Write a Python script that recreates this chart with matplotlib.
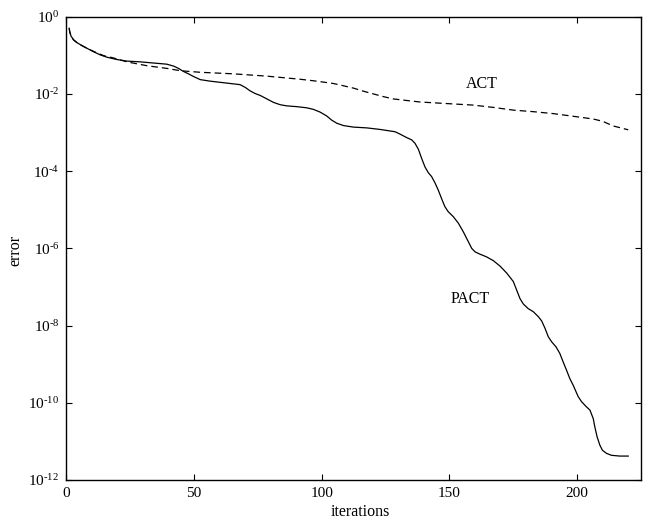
import numpy as np
import matplotlib
matplotlib.use("Agg")
import matplotlib.pyplot as plt
from matplotlib.ticker import FixedLocator, NullLocator

plt.rcParams['font.family'] = ['Liberation Serif', 'DejaVu Serif']
plt.rcParams['mathtext.fontset'] = 'custom'
plt.rcParams['mathtext.rm'] = 'Liberation Serif'
plt.rcParams['mathtext.it'] = 'Liberation Serif:italic'
plt.rcParams['mathtext.default'] = 'regular'

# PACT (solid) : iteration, log10(error)
pact_iter = [1.1, 1.3, 1.8, 2.8, 4.1, 6.1, 8.1, 10.7, 13.3, 15.9, 19.8, 23.7, 28.9, 34.1,
             39.3, 42.0, 43.9, 45.9, 47.8, 49.8, 52.4, 56.3, 60.2, 64.1, 68.0, 70.0, 71.9,
             73.9, 75.9, 78.5, 81.1, 83.7, 86.3, 90.2, 94.1, 96.7, 99.3, 101.9, 103.9,
             105.9, 108.5, 112.4, 117.6, 122.8, 126.7, 128.7, 130.6, 133.2, 135.2, 136.5,
             137.8, 139.1, 140.4, 141.7, 143.0, 144.3, 145.6, 146.9, 148.2, 149.5, 151.5,
             153.5, 155.4, 157.4, 158.7, 160.0, 161.9, 164.5, 167.2, 169.8, 172.4, 175.0,
             176.3, 177.6, 178.9, 180.8, 182.8, 184.8, 186.1, 187.4, 188.7, 190.0, 191.7,
             193.2, 194.5, 195.8, 197.1, 198.4, 200.4, 201.7, 203.4, 205.0, 206.3, 206.9,
             207.8, 208.9, 209.9, 211.5, 213.4, 216.7, 220.0]
pact_log10_error = [-0.30, -0.39, -0.50, -0.60, -0.67, -0.75, -0.82, -0.91, -0.99, -1.05,
                    -1.11, -1.15, -1.17, -1.20, -1.23, -1.28, -1.34, -1.42, -1.48, -1.55,
                    -1.63, -1.67, -1.70, -1.73, -1.76, -1.83, -1.92, -1.99, -2.04, -2.13,
                    -2.22, -2.28, -2.31, -2.33, -2.36, -2.40, -2.47, -2.57, -2.68, -2.76,
                    -2.82, -2.86, -2.88, -2.92, -2.96, -2.98, -3.04, -3.13, -3.19, -3.28,
                    -3.43, -3.67, -3.89, -4.04, -4.14, -4.30, -4.49, -4.71, -4.92, -5.05,
                    -5.18, -5.35, -5.57, -5.83, -6.00, -6.09, -6.15, -6.22, -6.32, -6.46,
                    -6.64, -6.86, -7.08, -7.30, -7.44, -7.56, -7.64, -7.77, -7.88, -8.07,
                    -8.29, -8.42, -8.55, -8.72, -8.94, -9.15, -9.37, -9.54, -9.84, -9.97,
                    -10.09, -10.19, -10.41, -10.62, -10.88, -11.10, -11.23, -11.31, -11.36,
                    -11.38, -11.38]

# ACT (dashed) : iteration, log10(error)
act_iter = [1.1, 1.3, 1.8, 2.8, 4.1, 6.1, 8.1, 10.7, 14.6, 18.5, 23.7, 31.5, 39.4, 44.6,
            52.4, 58.9, 65.4, 71.9, 78.5, 85.0, 91.5, 98.0, 104.5, 108.5, 112.4, 116.3,
            120.2, 124.1, 128.0, 133.2, 138.5, 143.7, 151.5, 159.3, 167.2, 175.0, 182.8,
            190.6, 198.5, 206.3, 210.0, 214.1, 220.0]
act_log10_error = [-0.30, -0.39, -0.50, -0.60, -0.67, -0.75, -0.82, -0.90, -1.01, -1.07,
                   -1.17, -1.27, -1.34, -1.40, -1.44, -1.46, -1.48, -1.51, -1.54, -1.58,
                   -1.62, -1.67, -1.73, -1.79, -1.85, -1.93, -2.00, -2.07, -2.13, -2.17,
                   -2.21, -2.23, -2.26, -2.29, -2.35, -2.42, -2.46, -2.51, -2.58, -2.65,
                   -2.71, -2.83, -2.93]

x_ticks = [0, 50, 100, 150, 200]
y_exponents = [0, -2, -4, -6, -8, -10, -12]

fig = plt.figure(figsize=(6.49, 5.23), dpi=100)
ax = fig.add_axes([0.1023, 0.0822, 0.8854, 0.8859])

ax.plot(pact_iter, 10.0 ** np.array(pact_log10_error), color='black', lw=0.9)
ax.plot(act_iter, 10.0 ** np.array(act_log10_error), color='black', lw=0.9,
        dashes=(5.3, 3.2))

ax.set_yscale('log')
ax.set_xlim(0, 225)
ax.set_ylim(1e-12, 1)


def exp_label(e):
    s = str(e).replace('-', '\u2010')
    return r'$10^{%s}$' % s


ax.xaxis.set_major_locator(FixedLocator(x_ticks))
ax.set_xticklabels([str(t) for t in x_ticks])
ax.yaxis.set_major_locator(FixedLocator([10.0 ** e for e in y_exponents]))
ax.set_yticklabels([exp_label(e) for e in y_exponents])
ax.yaxis.set_minor_locator(NullLocator())
ax.xaxis.set_minor_locator(NullLocator())

ax.tick_params(direction='in', length=4.5, width=0.8, top=True, right=True,
               labelsize=11, pad=5)
for s in ax.spines.values():
    s.set_linewidth(1.0)

ax.text(162.6, 10 ** -1.74, 'ACT', fontsize=11.5, ha='center', va='center')
ax.text(158, 10 ** -7.30, 'PACT', fontsize=11.5, ha='center', va='center')

fig.text(360 / 649, 1 - 511.7 / 523, 'iterations', fontsize=11.5, ha='center', va='center')
fig.text(15 / 649, 1 - 250 / 523, 'error', fontsize=11.5, ha='center', va='center',
         rotation=90)

fig.savefig('out.png', dpi=100)
